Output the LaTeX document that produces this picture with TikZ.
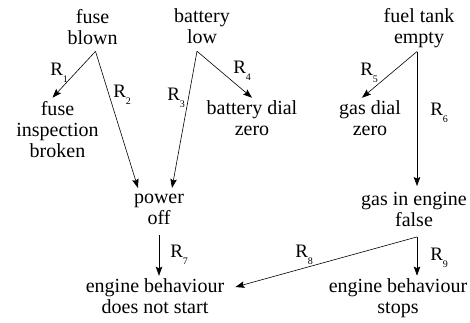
\documentclass[tikz,border=0pt]{standalone}
\usepackage{fontspec}
\setmainfont{Liberation Serif}
\usetikzlibrary{arrows.meta}
\newcommand{\rlab}[1]{R\raisebox{-7pt}{\fontsize{10}{10}\selectfont #1}}
\tikzset{
  evt/.style={align=center,inner xsep=2pt,inner ysep=3pt,font=\fontsize{20}{21}\selectfont,
    execute at begin node=\rule[-4pt]{0pt}{18pt},
    execute at end node=\rule[-4pt]{0pt}{18pt}},
  mid/.style={evt,inner ysep=6pt},
  rlabel/.style={anchor=base west,inner sep=0pt,font=\fontsize{19}{19}\selectfont},
}
\begin{document}
\begin{tikzpicture}[x=1pt,y=-1pt,line join=round,line width=0.6pt,>={Stealth[length=9pt,width=6.5pt,inset=1.5pt]}]
	\useasboundingbox (0,0) rectangle (470,322);
	% causes
	\node[evt] (fb) at (92.5,28.5) {fuse\\blown};
	\node[evt] (bl) at (202,28.5) {battery\\low};
	\node[evt] (ft) at (419,28.5) {fuel tank\\empty};
	% observations
	\node[evt] (fi) at (57.5,131) {fuse\\inspection\\broken};
	\node[evt] (bd) at (252,120.5) {battery dial\\zero};
	\node[evt] (gd) at (370,120.5) {gas dial\\zero};
	\node[mid] (po) at (159,211.5) {power\\off};
	\node[mid] (ge) at (414,211.5) {gas in engine\\false};
	\node[evt] (ns) at (155,298.5) {engine behaviour\\does not start};
	\node[evt] (es) at (398,298.5) {engine behaviour\\stops};
	% rules
	\draw[->] ([xshift=3pt]fb.south) -- ([xshift=-5pt]fi.north);
	\draw[->] ([xshift=3pt]fb.south) -- ([xshift=-21pt]po.north);
	\draw[->] ([xshift=-5pt]bl.south) -- ([xshift=13pt]po.north);
	\draw[->] ([xshift=-5pt]bl.south) -- (bd.north);
	\draw[->] ([xshift=-2pt]ft.south) -- ([xshift=-8pt]gd.north);
	\draw[->] ([xshift=-2pt]ft.south) -- ([xshift=-2pt]ft.south |- ge.north);
	\draw[->] (po.south) -- (po.south |- ns.north);
	\draw[->] ([xshift=3pt]ge.south) -- ([xshift=9pt,yshift=11.5pt]ns.east);
	\draw[->] ([xshift=3pt]ge.south) -- ([xshift=3pt]ge.south |- es.north);
	\node[rlabel] (r1) at (50,75) {\rlab{1}};
	\node[rlabel] (r2) at (113,97) {\rlab{2}};
	\node[rlabel] (r3) at (167,100) {\rlab{3}};
	\node[rlabel] (r4) at (233,73) {\rlab{4}};
	\node[rlabel] (r5) at (360,75) {\rlab{5}};
	\node[rlabel] (r6) at (430,115) {\rlab{6}};
	\node[rlabel] (r7) at (170,257) {\rlab{7}};
	\node[rlabel] (r8) at (295,257) {\rlab{8}};
	\node[rlabel] (r9) at (430,260) {\rlab{9}};
\end{tikzpicture}
\end{document}
